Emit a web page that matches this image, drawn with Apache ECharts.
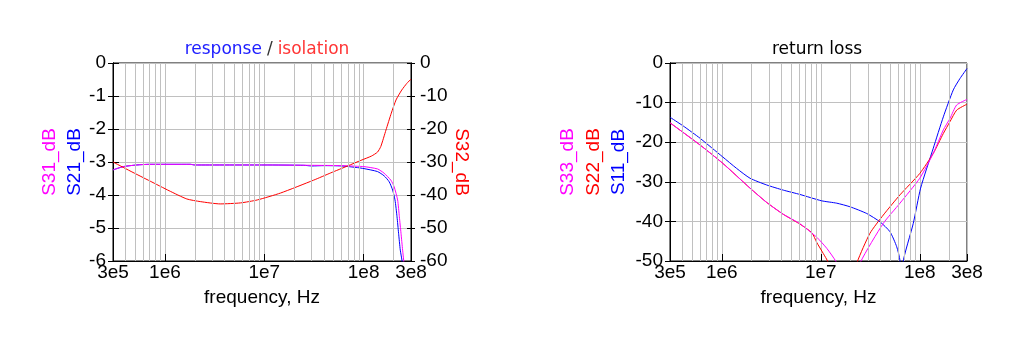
<!DOCTYPE html>
<html><head><meta charset="utf-8">
<script src="https://cdn.jsdelivr.net/npm/echarts@6/dist/echarts.min.js"></script>
<style>html,body{margin:0;padding:0;background:#fff}#c{width:1024px;height:352px}</style>
</head><body><div id="c"></div><script>
// ---- axis ranges / ticks ----
const FREQ_MIN = 3e5, FREQ_MAX = 3e8;
const minorGridFreqs = [4e5,5e5,6e5,7e5,8e5,9e5,2e6,3e6,4e6,5e6,6e6,7e6,8e6,9e6,2e7,3e7,4e7,5e7,6e7,7e7,8e7,9e7,2e8];

// ---- left chart: response / isolation ----
const s31Freq = [3e5, 3.8e5, 5.2e5, 7e5, 1.8e6, 2e6, 1e7, 3e7, 6e7, 8.7e7, 1.01e8, 1.38e8, 1.61e8, 1.88e8, 2.03e8, 2.2e8, 2.29e8, 2.38e8, 2.47e8, 2.53e8, 2.6e8];
const s31Db   = [-3.24, -3.14, -3.09, -3.07, -3.07, -3.09, -3.09, -3.10, -3.11, -3.13, -3.14, -3.21, -3.34, -3.55, -3.75, -4.15, -4.66, -5.16, -5.67, -5.97, -6.4];

const s21Freq = [3e5, 3.8e5, 5.2e5, 7e5, 1.8e6, 2e6, 1e7, 2.5e7, 3e7, 4e7, 6e7, 8.7e7, 1.01e8, 1.38e8, 1.61e8, 1.81e8, 1.96e8, 2.07e8, 2.17e8, 2.25e8, 2.34e8, 2.43e8, 2.5e8];
const s21Db   = [-3.24, -3.14, -3.09, -3.07, -3.07, -3.09, -3.09, -3.10, -3.12, -3.11, -3.12, -3.17, -3.2, -3.29, -3.42, -3.6, -3.85, -4.15, -4.66, -5.16, -5.67, -5.97, -6.4];

const s32Freq = [3e5, 4.45e5, 7.1e5, 1.1e6, 1.66e6, 2.27e6, 3.6e6, 5.75e6, 8.5e6, 1.46e7, 3.14e7, 4.67e7, 6.9e7, 9.4e7, 1.2e8, 1.38e8, 1.49e8, 1.68e8, 1.9e8, 2.12e8, 2.42e8, 2.72e8, 3e8];
const s32Db   = [-30, -32.7, -35.8, -38.7, -41.2, -42.0, -42.7, -42.4, -41.5, -39.4, -35.5, -33.3, -31.2, -29.5, -28.2, -27.0, -25.3, -20.3, -15.2, -11.2, -8.2, -6.2, -4.9];

// ---- right chart: return loss ----
const s11Freq = [3e5, 4.08e5, 6.03e5, 1.02e6, 1.41e6, 1.93e6, 2.84e6, 4.18e6, 6.17e6, 1.02e7, 1.45e7, 1.97e7, 2.91e7, 3.96e7, 5.0e7, 5.85e7, 6.31e7, 6.48e7, 6.75e7, 8.6e7, 1.02e8, 1.37e8, 1.73e8, 2.18e8, 2.55e8, 3e8];
const s11Db   = [-13.7, -15.9, -19.0, -23.7, -26.6, -29.1, -30.8, -32.1, -33.2, -34.8, -35.4, -36.3, -38.0, -40.1, -42.6, -46.4, -49.9, -62, -50.5, -40.5, -31.6, -21.5, -13.6, -6.8, -3.9, -1.4];

const s22Freq = [3e5, 6.03e5, 1.02e6, 1.93e6, 2.84e6, 4.18e6, 6.17e6, 8.15e6, 9.1e6, 1.06e7, 1.18e7, 1.25e7, null, 2.2e7, 2.34e7, 3.14e7, 4.28e7, 6.31e7, 1.0e8, 1.37e8, 1.73e8, 2.02e8, 2.36e8, 3e8];
const s22Db   = [-15.1, -20.7, -25.3, -31.6, -35.2, -38.2, -40.7, -42.9, -45.3, -48.1, -50.2, -53, null, -54, -50.2, -43.0, -38.4, -33.3, -27.9, -22.8, -17.8, -14.8, -11.9, -10.4];

const s33Freq = [3e5, 6.03e5, 1.02e6, 1.93e6, 2.84e6, 4.18e6, 6.17e6, 9.1e6, 1.15e7, 1.43e7, 1.5e7, null, 2.4e7, 2.53e7, 4.28e7, 6.31e7, 1.0e8, 1.37e8, 1.73e8, 2.02e8, 2.36e8, 3e8];
const s33Db   = [-15.1, -20.7, -25.3, -31.6, -35.2, -38.2, -40.6, -44.0, -46.8, -50.2, -52, null, -54, -50.2, -40.5, -35.4, -29.1, -22.8, -16.9, -14.0, -10.6, -9.2];

function pairs(f, d) { return f.map((x, i) => (x === null ? '-' : [x, d[i]])); }

const FONT = '"Liberation Sans", Arial, sans-serif';
const TFONT = '"DejaVu Sans", Verdana, sans-serif';
const GRID_GRAY = '#c0c0c0';
const FS = 19;

function makeX(gridIndex) {
  return {
    type: 'log', logBase: 10, gridIndex, min: FREQ_MIN, max: FREQ_MAX,
    name: 'frequency, Hz', nameLocation: 'middle', nameGap: 27,
    nameTextStyle: { color: '#000', fontSize: FS, fontFamily: FONT },
    axisLine: { show: true, onZero: false, lineStyle: { color: '#000', width: 1 } },
    axisTick: { show: true, inside: true, length: 7, lineStyle: { color: '#000', width: 1 } },
    axisLabel: { interval: 0, color: '#000', fontSize: FS, fontFamily: FONT, margin: 2,
      formatter: v => Number(v).toExponential(0).replace('+', '') },
    splitLine: { show: true, lineStyle: { color: GRID_GRAY, width: 1 } }
  };
}
function makeY(gridIndex, position, min, max, interval, extra) {
  return Object.assign({
    type: 'value', gridIndex, position, min, max, interval,
    axisLine: { show: true, onZero: false, lineStyle: { color: '#000', width: 1 } },
    axisTick: { show: true, inside: true, length: 6, lineStyle: { color: '#000', width: 1 } },
    axisLabel: { show: true, color: '#000', fontSize: FS, fontFamily: FONT, margin: 7 },
    splitLine: { show: false }
  }, extra);
}
function outsideTicks(gridIndex, position, min, max, interval, len) {
  return makeY(gridIndex, position, min, max, interval, {
    axisTick: { show: true, inside: false, length: len, lineStyle: { color: '#000', width: 1 } },
    axisLabel: { show: false }
  });
}
function gridLines(xi, yi) {
  return {
    type: 'line', xAxisIndex: xi, yAxisIndex: yi, data: [], silent: true, z: 1,
    markLine: { silent: true, symbol: ['none', 'none'], label: { show: false }, animation: false,
      lineStyle: { color: GRID_GRAY, type: 'solid', width: 1 }, emphasis: { disabled: true },
      data: minorGridFreqs.map(f => ({ xAxis: f })) }
  };
}
function curve(name, xi, yi, f, d, color) {
  return { name, type: 'line', xAxisIndex: xi, yAxisIndex: yi, data: pairs(f, d), showSymbol: false, symbol: 'none',
    smooth: 0.2,
    connectNulls: false, clip: true, z: 3, lineStyle: { width: 1, color }, itemStyle: { color }, animation: false };
}

const chart = echarts.init(document.getElementById('c'), null, { renderer: 'canvas' });
chart.setOption({
  backgroundColor: '#fff',
  animation: false,
  title: [
    { text: '{b|response} {k|/} {r|isolation}', left: 262, top: 36, textAlign: 'center',
      textStyle: { fontWeight: 'normal', rich: {
        b: { color: '#2020ff', fontSize: 17, fontWeight: 'normal', fontFamily: TFONT },
        k: { color: '#333', fontSize: 17, fontWeight: 'normal', fontFamily: TFONT },
        r: { color: '#ff3535', fontSize: 17, fontWeight: 'normal', fontFamily: TFONT } } } },
    { text: 'return loss', left: 812, top: 36, textAlign: 'center',
      textStyle: { color: '#000', fontSize: 17, fontWeight: 'normal', fontFamily: TFONT } }
  ],
  grid: [
    { left: 113, top: 63, width: 298, height: 198, show: true, borderColor: '#000', borderWidth: 1, backgroundColor: 'transparent' },
    { left: 670, top: 63, width: 297, height: 198, show: true, borderColor: '#000', borderWidth: 1, backgroundColor: 'transparent' }
  ],
  xAxis: [makeX(0), makeX(1)],
  yAxis: [
    makeY(0, 'left', -6, 0, 1, {
      splitLine: { show: true, lineStyle: { color: GRID_GRAY, width: 1 } },
      name: '{m|S31_dB}\n{b|S21_dB}', nameLocation: 'middle', nameRotate: 90, nameGap: 26,
      nameTextStyle: { rich: {
        m: { color: '#ff00ff', fontSize: FS, fontFamily: FONT, lineHeight: 25 },
        b: { color: '#0000ff', fontSize: FS, fontFamily: FONT, lineHeight: 25 } } }
    }),
    makeY(0, 'right', -60, 0, 10, {
      axisTick: { show: true, inside: true, length: 4, lineStyle: { color: '#000', width: 1 } },
      axisLabel: { show: true, color: '#000', fontSize: FS, fontFamily: FONT, margin: 9 },
      name: 'S32_dB', nameLocation: 'middle', nameRotate: -90, nameGap: 40,
      nameTextStyle: { color: '#ff0000', fontSize: FS, fontFamily: FONT }
    }),
    outsideTicks(0, 'left', -6, 0, 1, 5),
    outsideTicks(0, 'right', -60, 0, 10, 4),
    makeY(1, 'left', -50, 0, 10, {
      splitLine: { show: true, lineStyle: { color: GRID_GRAY, width: 1 } },
      name: '{m|S33_dB}\n{r|S22_dB}\n{b|S11_dB}', nameLocation: 'middle', nameRotate: 90, nameGap: 38,
      nameTextStyle: { rich: {
        m: { color: '#ff00ff', fontSize: FS, fontFamily: FONT, lineHeight: 25.5 },
        r: { color: '#ff0000', fontSize: FS, fontFamily: FONT, lineHeight: 25.5 },
        b: { color: '#0000ff', fontSize: FS, fontFamily: FONT, lineHeight: 25.5 } } }
    }),
    outsideTicks(1, 'left', -50, 0, 10, 5)
  ],
  series: [
    gridLines(0, 0),
    gridLines(1, 4),
    curve('S21_dB', 0, 0, s21Freq, s21Db, '#0000ff'),
    curve('S31_dB', 0, 0, s31Freq, s31Db, '#ff00ff'),
    curve('S32_dB', 0, 1, s32Freq, s32Db, '#ff0000'),
    curve('S11_dB', 1, 4, s11Freq, s11Db, '#0000ff'),
    curve('S22_dB', 1, 4, s22Freq, s22Db, '#ff0000'),
    curve('S33_dB', 1, 4, s33Freq, s33Db, '#ff00ff')
  ]
});
</script></body></html>
